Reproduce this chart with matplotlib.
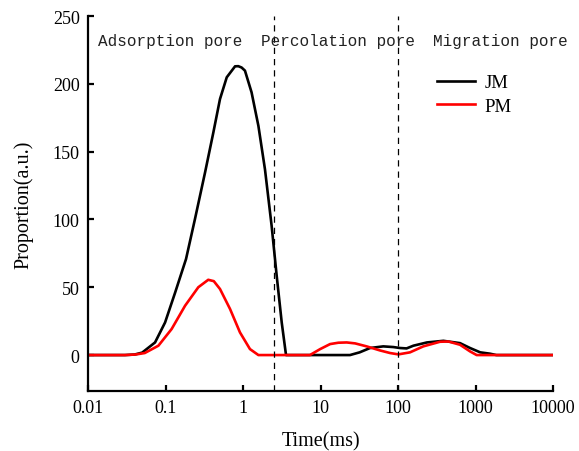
import matplotlib
matplotlib.use('Agg')
import matplotlib.pyplot as plt

# T2 relaxation time (ms) and proportion readings
jm_time = [0.01, 0.03, 0.04, 0.05, 0.0733, 0.0987, 0.133, 0.184, 0.24, 0.324, 0.414,
           0.505, 0.617, 0.79, 0.87, 0.96, 1.06, 1.29, 1.58, 1.92, 2.34, 2.72,
           3.16, 3.59, 10, 24, 32, 43.6, 64.5, 87, 106, 129, 158, 236, 385, 631,
           850, 1150, 1540, 1860, 10000]
jm_value = [0, 0, 0.4, 1.8, 9.3, 24, 46, 70.8, 100.3, 134.7, 164,
            188.8, 204.8, 212.9, 213, 212, 209.7, 193.7, 169, 137, 95.4, 58.5,
            24, 0, 0, 0, 2, 5.2, 6.4, 5.9, 5.2, 4.9, 6.9, 9.3, 10.5, 8.8,
            5.2, 2, 1, 0, 0]

pm_time = [0.01, 0.03, 0.041, 0.054, 0.081, 0.12, 0.179, 0.265, 0.356, 0.42, 0.505,
           0.68, 0.914, 1.23, 1.58, 7.3, 9.9, 13.3, 17, 21.8, 28, 39.4, 58.6, 79,
           101, 143, 212, 348, 446, 631, 850, 1035, 10000]
pm_value = [0, 0, 0.4, 1.5, 6.9, 19.2, 36.4, 50, 55.5, 54.5, 48.7,
            34, 16.7, 4.4, 0, 0, 4.4, 8.1, 9.1, 9.3, 8.6, 6.4, 3.4, 1.5,
            0.5, 2, 6.4, 9.8, 10, 7.6, 2.7, 0, 0]

boundaries = [2.5, 100]
region_names = ['Adsorption pore', 'Percolation pore', 'Migration pore']
region_x = [0.01346, 1.7, 283]

xticks = [0.01, 0.1, 1, 10, 100, 1000, 10000]
xtick_labels = ['0.01', '0.1', '1', '10', '100', '1000', '10000']
yticks = [0, 50, 100, 150, 200, 250]

serif = ['Liberation Serif', 'DejaVu Serif']
plt.rcParams['font.family'] = serif

fig = plt.figure(figsize=(5.79, 4.52), dpi=100)
ax = fig.add_axes([88 / 579, 1 - 392 / 452, (553 - 88) / 579, (392 - 17) / 452])

ax.plot(jm_time, jm_value, color='black', lw=1.9, label='JM')
ax.plot(pm_time, pm_value, color='#ff0000', lw=1.9, label='PM')

for b in boundaries:
	ax.axvline(b, color='black', lw=0.9, ls=(0, (5, 4)))

for name, x in zip(region_names, region_x):
	ax.text(x, 232, name, fontsize=11.5, family='Liberation Mono', va='center',
	        ha='left', color='#222222', clip_on=False)

ax.set_xscale('log')
ax.set_xlim(0.01, 10000)
ax.set_ylim(-26.5, 250)
ax.set_xticks(xticks)
ax.set_xticklabels(xtick_labels)
ax.set_yticks(yticks)
ax.minorticks_off()

ax.spines['top'].set_visible(False)
ax.spines['right'].set_visible(False)
ax.spines['left'].set_linewidth(1.6)
ax.spines['bottom'].set_linewidth(1.6)
ax.tick_params(direction='in', length=4, width=1.6, labelsize=13, pad=6)

ax.set_xlabel('Time(ms)', fontsize=14.5, labelpad=11)
ax.set_ylabel('Proportion(a.u.)', fontsize=14.5, labelpad=14)

ax.legend(loc='upper right', bbox_to_anchor=(0.948, 0.89), frameon=False,
          fontsize=13.5, handlelength=2.0, handletextpad=0.55, labelspacing=0.35)

fig.savefig('out.png', dpi=100)
